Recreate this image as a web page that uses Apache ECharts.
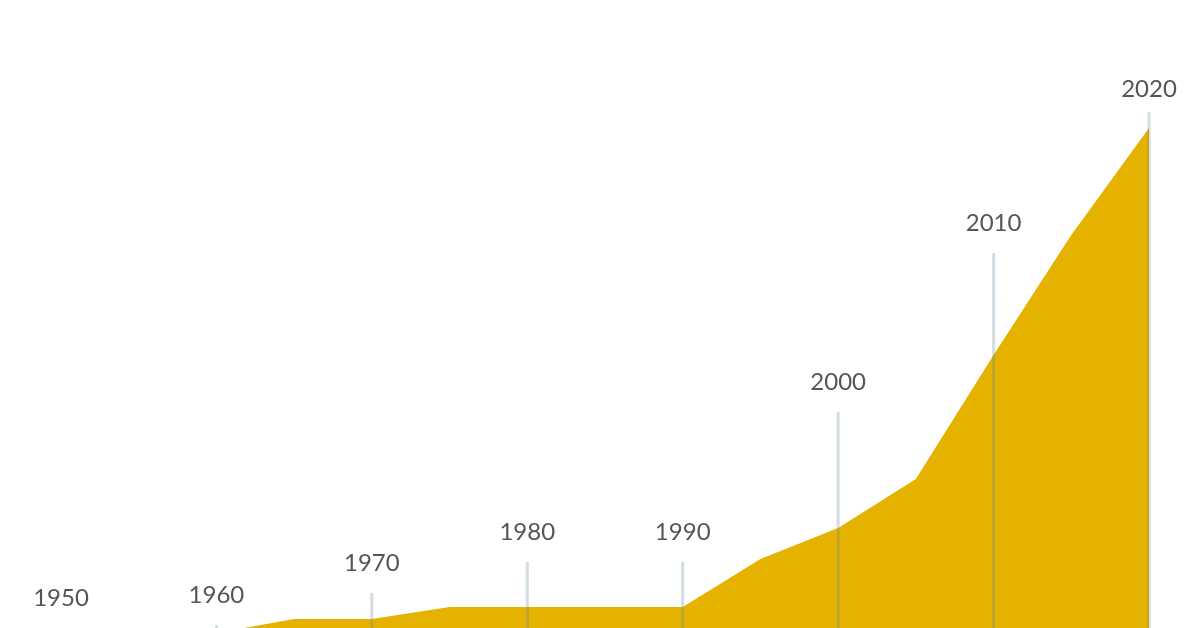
<!DOCTYPE html>
<html lang="en">
<head>
    <meta charset="utf-8">
    <script src="https://cdn.jsdelivr.net/npm/echarts@6/dist/echarts.min.js"></script>
    <style>
        html, body { margin: 0; padding: 0; background: #fff; }
        #main { width: 1200px; height: 628px; }
    </style>
</head>
<body>
<div id="main"></div>
<script>
    // area series, every five years
    var years = [1950, 1955, 1960, 1965, 1970, 1975, 1980, 1985, 1990, 1995, 2000, 2005, 2010, 2015, 2020];
    var values = [5, 10, 17, 31, 31, 43, 43, 43, 43, 91, 122, 171, 295, 415, 522];

    // decade marker lines and how tall they stand
    var decades = [1950, 1960, 1970, 1980, 1990, 2000, 2010, 2020];
    var markerTops = [22, 25, 57, 88, 88, 238, 397, 538];

    var chart = echarts.init(document.getElementById('main'));

    chart.setOption({
        animation: false,
        grid: { left: 61, right: 51, top: 0, bottom: 0 },
        xAxis: {
            type: 'value',
            min: 1950,
            max: 2020,
            show: false
        },
        yAxis: {
            type: 'value',
            min: 22,
            max: 650,
            show: false
        },
        series: [
            {
                type: 'line',
                symbol: 'none',
                lineStyle: { width: 0 },
                areaStyle: { color: '#E5B200', opacity: 1, origin: 'start' },
                data: years.map(function (y, i) { return [y, values[i]]; }),
                z: 1
            },
            {
                type: 'bar',
                barWidth: 3,
                itemStyle: { color: 'rgba(90, 130, 150, 0.27)' },
                label: {
                    show: true,
                    position: 'top',
                    distance: 18,
                    fontFamily: 'Lato',
                    fontSize: 24,
                    color: '#555',
                    formatter: function (p) { return p.value[0]; }
                },
                data: decades.map(function (d, i) {
                    var item = { value: [d, markerTops[i]] };
                    if (d === 2020) item.label = { distance: 11 };
                    return item;
                }),
                z: 3
            }
        ]
    });
</script>
</body>
</html>
